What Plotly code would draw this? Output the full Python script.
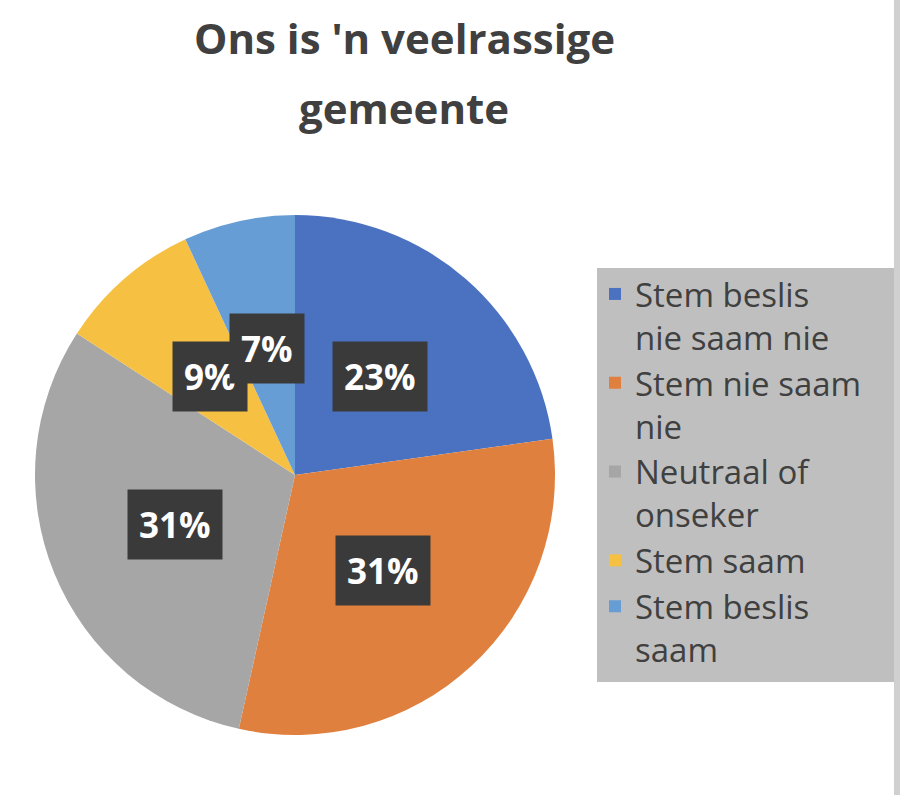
import math
import plotly.graph_objects as go

# ---- data ----
categories = ["Stem beslis<br>nie saam nie", "Stem nie saam<br>nie", "Neutraal of<br>onseker",
              "Stem saam", "Stem beslis<br>saam"]
values = [23, 31, 31, 9, 7]
colors = ["#4A72C0", "#E0803F", "#A6A6A6", "#F6C143", "#679DD5"]
title_lines = ["Ons is 'n veelrassige", "gemeente"]

W, H = 900, 795
dom_x = [35 / W, 555 / W]
dom_y = [1 - 735 / H, 1 - 215 / H]

fig = go.Figure(go.Pie(
    labels=categories, values=values, sort=False, direction="clockwise", rotation=0,
    marker=dict(colors=colors, line=dict(width=0)),
    textinfo="none", hoverinfo="label+percent",
    domain=dict(x=dom_x, y=dom_y),
))

# data labels placed at mid-angle, half radius (derived from values)
total = sum(values)
cx = (dom_x[0] + dom_x[1]) / 2 * W
cy = (1 - (dom_y[0] + dom_y[1]) / 2) * H
R = min((dom_x[1] - dom_x[0]) * W, (dom_y[1] - dom_y[0]) * H) / 2
cum = 0
annotations = []
for v in values:
    mid = (cum + v / 2) / total * 2 * math.pi
    cum += v
    px = cx + 0.5 * R * math.sin(mid)
    py = cy - 0.5 * R * math.cos(mid)
    annotations.append(dict(
        x=px / W, y=1 - py / H, xref="paper", yref="paper", showarrow=False,
        xanchor="center", yanchor="middle",
        text=f"<b>{round(v / total * 100)}%</b>",
        font=dict(family="Open Sans", size=35, color="white"),
        bgcolor="#3A3A3A", borderpad=11,
    ))

# title, two lines with Excel-like line spacing
for i, line in enumerate(title_lines):
    annotations.append(dict(
        x=404 / W, y=1 - (38 + 70 * i) / H, xref="paper", yref="paper", showarrow=False,
        xanchor="center", yanchor="middle", text=f"<b>{line}</b>",
        font=dict(family="Open Sans", size=42, color="#404040"),
    ))

fig.update_layout(
    width=W, height=H,
    margin=dict(l=0, r=0, t=0, b=0),
    paper_bgcolor="white", plot_bgcolor="white",
    showlegend=True,
    legend=dict(x=595 / W, y=1 - 266 / H, xanchor="left", yanchor="top",
                bgcolor="rgba(0,0,0,0)", font=dict(family="Open Sans", size=33, color="#404040"),
                valign="top", itemwidth=30),
    shapes=[
        dict(type="rect", xref="paper", yref="paper", x0=597 / W, x1=894 / W,
             y0=1 - 682 / H, y1=1 - 268 / H, fillcolor="#BFBFBF", line=dict(width=0), layer="below"),
        dict(type="rect", xref="paper", yref="paper", x0=894 / W, x1=1,
             y0=0, y1=1, fillcolor="#D0D0D0", line=dict(width=0), layer="below"),
    ],
    annotations=annotations,
)
fig.write_html("out.html", config={"displayModeBar": False},
               post_script="document.body.style.margin='0';document.body.style.overflow='hidden';")
